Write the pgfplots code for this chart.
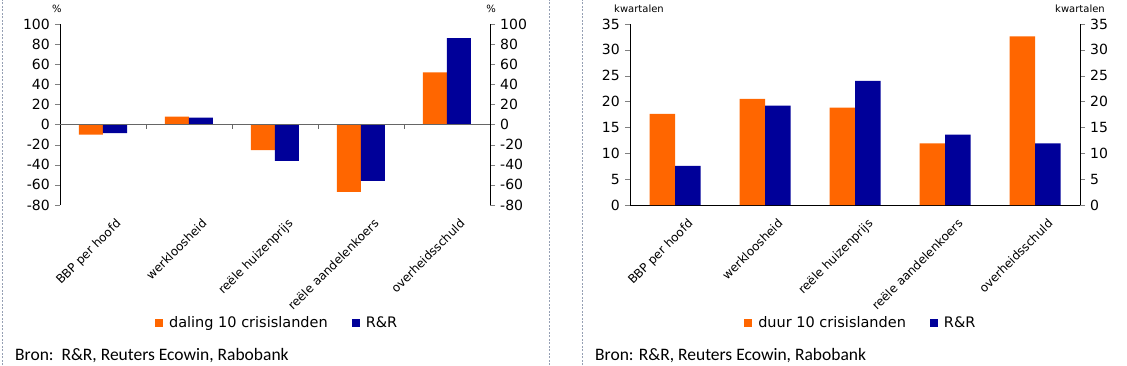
\documentclass[border=0pt]{standalone}
\usepackage{fontspec}
\setmainfont{DejaVu Sans}
\newfontfamily\bronfont{Carlito}
\usepackage{pgfplots}
\pgfplotsset{compat=1.18}
\definecolor{cor}{RGB}{255,102,0}
\definecolor{cbl}{RGB}{0,0,153}
\definecolor{bordercol}{RGB}{150,160,180}
\pgfplotsset{
  common/.style={
    anchor=south west, scale only axis, height=181pt,
    xmin=-0.5, xmax=4.5,
    /pgf/number format/assume math mode=true,
    tick align=outside, major tick length=5pt,
    yticklabel style={font=\fontsize{14}{14}\selectfont, inner sep=1pt, xshift=-4pt},
  },
  catlabels/.style={
    xtick={0,...,4},
    xticklabels={BBP per hoofd, werkloosheid, reële huizenprijs, reële aandelenkoers, overheidsschuld},
    xticklabel style={font=\fontsize{12}{12}\selectfont, rotate=45, anchor=north east, inner sep=0pt, xshift=3pt, yshift=-14pt},
    xtick style={draw=none},
  },
  rightaxis/.style={
    anchor=south west, scale only axis, height=181pt,
    xmin=-0.5, xmax=4.5,
    /pgf/number format/assume math mode=true,
    axis y line*=right, axis x line=none,
    tick align=outside, major tick length=5pt,
    yticklabel style={font=\fontsize{14}{14}\selectfont, inner sep=1pt, xshift=4pt},
  },
  leg/.style={
    legend columns=2,
    legend style={draw=none, fill=none, font=\fontsize{14.5}{14.5}\selectfont, inner sep=0pt,
      /tikz/every even column/.append style={column sep=22pt}},
  },
  sq/.style={legend image code/.code={\fill[#1] (0pt,-4pt) rectangle (8pt,4pt); \path (12pt,0pt);}},
}
\begin{document}
\begin{tikzpicture}[x=1pt,y=1pt]
\path[use as bounding box] (0,0) rectangle (1127,365);
% panel borders
\draw[bordercol, dash pattern=on 2pt off 1.5pt] (2,0) -- (2,365);
\draw[bordercol, dash pattern=on 2pt off 1.5pt] (549,0) -- (549,365);
\draw[bordercol, dash pattern=on 2pt off 1.5pt] (582,0) -- (582,365);

% ---------------- left chart
\begin{axis}[common, catlabels, leg, at={(60pt,160pt)}, width=430pt,
  ymin=-80, ymax=100, ytick={-80,-60,...,100},
  axis y line*=left, axis x line*=bottom, x axis line style={draw=none},
  ybar=0pt, bar width=24pt,
  legend style={at={(0.505,-0.652)}, anchor=center}]
\addplot[fill=cor, draw=none, sq=cor] coordinates {(0,-10) (1,8) (2,-25.5) (3,-67) (4,52)};
\addlegendentry{daling 10 crisislanden}
\addplot[fill=cbl, draw=none, sq=cbl] coordinates {(0,-8.5) (1,7) (2,-36) (3,-56) (4,86)};
\addlegendentry{R\&R}
\draw[gray!80!black] (axis cs:-0.5,0) -- (axis cs:4.5,0);
\pgfplotsinvokeforeach{0.5,1.5,2.5,3.5}{\draw[gray!80!black] (axis cs:#1,0) -- ++(0pt,-4pt);}
\end{axis}
\begin{axis}[rightaxis, at={(60pt,160pt)}, width=430pt,
  ymin=-80, ymax=100, ytick={-80,-60,...,100}]
\end{axis}
\node[font=\fontsize{10}{10}\selectfont] at (57,356) {\%};
\node[font=\fontsize{10}{10}\selectfont] at (491,356) {\%};
\node[font=\bronfont\fontsize{17.5}{17.5}\selectfont, anchor=west, inner sep=0pt] at (15,9) {Bron:\ \ R\&R, Reuters Ecowin, Rabobank};

% ---------------- right chart
\begin{axis}[common, catlabels, leg, at={(630pt,160pt)}, width=450pt,
  ymin=0, ymax=35, ytick={0,5,...,35},
  axis y line*=left, axis x line*=bottom,
  ybar=0pt, bar width=25.5pt,
  legend style={at={(0.513,-0.652)}, anchor=center}]
\addplot[fill=cor, draw=none, sq=cor] coordinates {(0,17.6) (1,20.5) (2,18.85) (3,11.9) (4,32.6)};
\addlegendentry{duur 10 crisislanden}
\addplot[fill=cbl, draw=none, sq=cbl] coordinates {(0,7.55) (1,19.2) (2,24.0) (3,13.6) (4,11.9)};
\addlegendentry{R\&R}
\pgfplotsinvokeforeach{-0.5,0.5,1.5,2.5,3.5,4.5}{\draw (axis cs:#1,0) -- ++(0pt,-5pt);}
\end{axis}
\begin{axis}[rightaxis, at={(630pt,160pt)}, width=450pt,
  ymin=0, ymax=35, ytick={0,5,...,35}]
\end{axis}
\node[font=\fontsize{10}{10}\selectfont] at (639,356) {kwartalen};
\node[font=\fontsize{10}{10}\selectfont] at (1080,356) {kwartalen};
\node[font=\bronfont\fontsize{17.5}{17.5}\selectfont, anchor=west, inner sep=0pt] at (595,9) {Bron: R\&R, Reuters Ecowin, Rabobank};
\end{tikzpicture}
\end{document}
